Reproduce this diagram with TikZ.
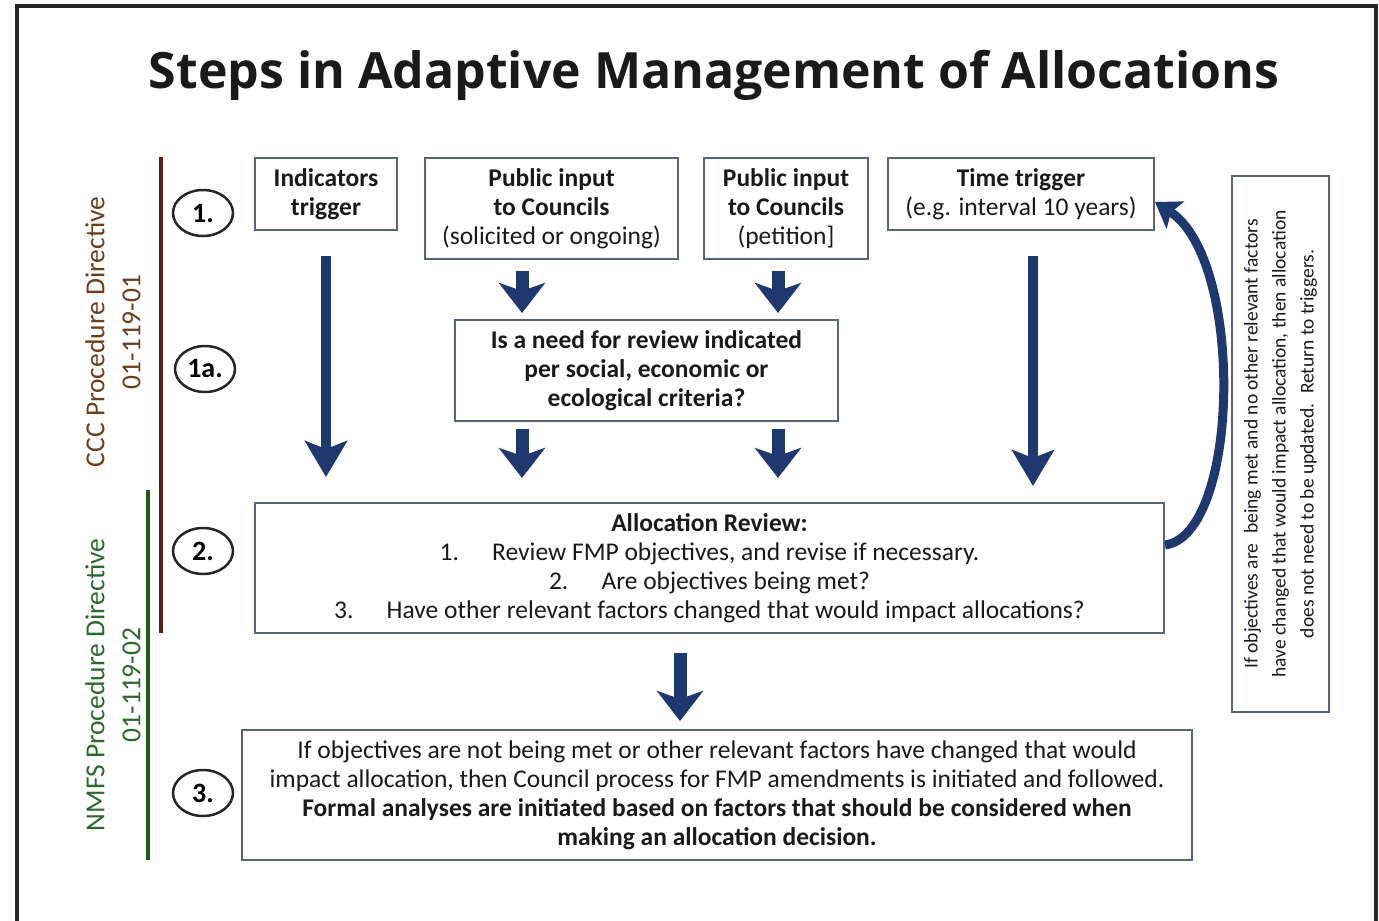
\documentclass[tikz,border=0pt]{standalone}
\usepackage{fontspec}
\setmainfont{Carlito}
\newfontfamily\titlefont{Open Sans}
\usetikzlibrary{arrows.meta,shapes.geometric}
\definecolor{navy}{HTML}{1F386E}
\definecolor{boxline}{HTML}{5B6475}
\definecolor{brownline}{HTML}{5A1E12}
\definecolor{browntext}{HTML}{6E3E1A}
\definecolor{greenline}{HTML}{1E5A1E}
\definecolor{greentext}{HTML}{2A6A2A}
\definecolor{inktext}{HTML}{1A1A1A}
\tikzset{
  box/.style={draw=boxline, line width=2pt, align=center, inner sep=0pt, text=inktext,
    font=\fontsize{25.5}{29}\selectfont},
  stepmark/.style={draw=black!85, line width=2.5pt, ellipse, inner sep=0pt,
    minimum width=60pt, minimum height=46pt, font=\fontsize{28}{28}\selectfont\bfseries},
  longarrow/.style={draw=navy, line width=10pt, -{Stealth[width=42pt,length=36pt,inset=8pt]}},
  shortarrow/.style={draw=navy, line width=13pt, -{Stealth[width=46pt,length=30pt,inset=8pt]}},
  sidelabel/.style={rotate=90, align=center, font=\fontsize{27.5}{36}\selectfont},
}
\begin{document}
\begin{tikzpicture}[x=1pt,y=-1pt]
\useasboundingbox (0,0) rectangle (1379,921);
\fill[white] (0,0) rectangle (1379,921);
% outer frame
\draw[line width=4.5pt, black!85] (17,930) -- (17,6) -- (1376,6) -- (1376,930);
% title
\node (title) at (714,75) {\titlefont\bfseries\fontsize{50}{55}\selectfont\color{inktext}Steps in Adaptive Management of Allocations};
% directive lines
\draw[brownline, line width=3.5pt] (161,157) coordinate (cccA) -- (161,633) coordinate (cccB);
\draw[greenline, line width=3.5pt] (148,490) coordinate (nmA) -- (148,860) coordinate (nmB);
\node[sidelabel, text=browntext] (ccc) at (113,332) {CCC Procedure Directive\\01-119-01};
\node[sidelabel, text=greentext] (nmfs) at (113,685) {NMFS Procedure Directive\\01-119-02};
% step marks
\node[stepmark] (s1) at (203,213) {1.};
\node[stepmark] (s1a) at (205,369) {1a.};
\node[stepmark] (s2) at (203,551) {2.};
\node[stepmark] (s3) at (203,793) {3.};
% top boxes
\node[box, minimum width=142pt, minimum height=72pt] (ind) at (326,194) {\bfseries Indicators\\\bfseries trigger};
\node[box, minimum width=253pt, minimum height=101pt] (pub1) at (551.5,208.5) {\bfseries Public input\\\bfseries to Councils\\(solicited or ongoing)};
\node[box, minimum width=164pt, minimum height=101pt] (pub2) at (786,208.5) {\bfseries Public input\\\bfseries to Councils\\(petition]};
\node[box, minimum width=266pt, minimum height=72pt] (time) at (1021,194) {\bfseries Time trigger\\(e.g. interval 10 years)};
% need box
\node[box, minimum width=383pt, minimum height=101pt] (need) at (646.5,370.5) {\bfseries Is a need for review indicated\\\bfseries per social, economic or\\\bfseries ecological criteria?};
% allocation review
\node[box, minimum width=909pt, minimum height=130pt] (alloc) at (709.5,568) {\bfseries Allocation Review:\\1.\hspace{1.3em}Review FMP objectives, and revise if necessary.\\2.\hspace{1.3em}Are objectives being met?\\3.\hspace{1.3em}Have other relevant factors changed that would impact allocations?};
% bottom box
\node[box, minimum width=950pt, minimum height=130pt] (final) at (717,795) {If objectives are not being met or other relevant factors have changed that would\\impact allocation, then Council process for FMP amendments is initiated and followed.\\\bfseries Formal analyses are initiated based on factors that should be considered when\\\bfseries making an allocation decision.};
% side box
\node[box, minimum width=97pt, minimum height=536pt] (side) at (1280.5,444) {};
\node[rotate=90, align=center, text=inktext, font=\fontsize{19.5}{28}\selectfont] (sidetext) at (side.center) {If objectives are\enspace being met and no other relevant factors\\have changed that would impact allocation, then allocation\\does not need to be updated.\enspace Return to triggers.};
% arrows
\draw[longarrow, shorten <=25pt, shorten >=25pt] (ind.south) -- (ind.south |- alloc.north);
\draw[shortarrow, shorten <=11pt, shorten >=6pt] ([xshift=-29.5pt]pub1.south) -- ([xshift=-29.5pt]pub1.south |- need.north);
\draw[shortarrow, shorten <=11pt, shorten >=6pt] ([xshift=-8pt]pub2.south) -- ([xshift=-8pt]pub2.south |- need.north);
\draw[shortarrow, shorten <=7pt, shorten >=24pt] ([xshift=-124.5pt]need.south) -- ([xshift=-124.5pt]need.south |- alloc.north);
\draw[shortarrow, shorten <=7pt, shorten >=24pt] ([xshift=131.5pt]need.south) -- ([xshift=131.5pt]need.south |- alloc.north);
\draw[longarrow, shorten <=25pt, shorten >=16pt] ([xshift=12pt]time.south) -- ([xshift=12pt]time.south |- alloc.north);
\draw[shortarrow, shorten <=19pt, shorten >=8pt] ([xshift=-29.5pt]alloc.south) -- ([xshift=-29.5pt]alloc.south |- final.north);
% return arrow
\draw[draw=navy, line width=9pt, -{Stealth[width=32pt,length=24pt,inset=5pt]}]
  ([yshift=23pt]alloc.east) .. controls (1240,535) and (1245,260) .. ([yshift=-8pt]time.east);
\end{tikzpicture}
\end{document}
